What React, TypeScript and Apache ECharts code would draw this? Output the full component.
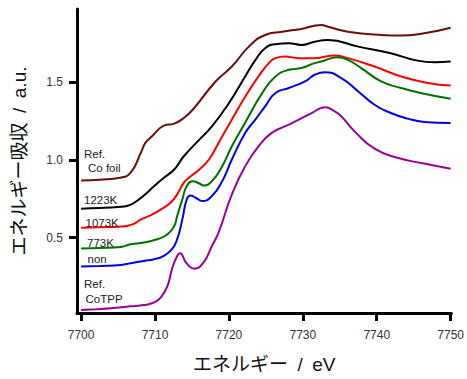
import React, { useEffect, useRef } from "react";
import * as echarts from "echarts";

// Energy (eV) / absorbance pairs
const coFoilE = [7700, 7702.5, 7705.3, 7706.7, 7708.1, 7708.7, 7709.6, 7711.2, 7712.6, 7713.9, 7715.1, 7718.2, 7720.4, 7722.7, 7724.9, 7727.2, 7729.8, 7732.5, 7733.4, 7736.1, 7740.6, 7743.3, 7746.4, 7750];
const coFoilV = [0.867, 0.872, 0.885, 0.917, 1.047, 1.109, 1.151, 1.22, 1.233, 1.269, 1.322, 1.504, 1.6, 1.728, 1.803, 1.824, 1.842, 1.867, 1.856, 1.824, 1.803, 1.799, 1.814, 1.85];

const k1223E = [7700, 7702.5, 7705, 7706.3, 7707.2, 7708.5, 7709.9, 7711.2, 7712.6, 7713.9, 7716.0, 7717.7, 7720.0, 7722.2, 7723.6, 7724.9, 7726.3, 7728.1, 7729.8, 7731.6, 7733.4, 7737.5, 7741.9, 7745.5, 7747.8, 7750];
const k1223V = [0.686, 0.69, 0.697, 0.705, 0.724, 0.771, 0.831, 0.885, 0.938, 1.023, 1.13, 1.215, 1.365, 1.536, 1.643, 1.718, 1.744, 1.75, 1.739, 1.76, 1.771, 1.728, 1.686, 1.638, 1.628, 1.632];

const k1073E = [7700, 7702.5, 7705, 7706.3, 7707.2, 7708.1, 7709.4, 7710.8, 7712.1, 7713.0, 7713.9, 7714.6, 7716.0, 7717.3, 7718.6, 7720.0, 7722.2, 7724.0, 7725.4, 7726.3, 7727.6, 7729.4, 7731.6, 7734.3, 7736.1, 7739.7, 7743.3, 7746.9, 7750];
const k1073V = [0.564, 0.567, 0.57, 0.576, 0.59, 0.617, 0.643, 0.681, 0.724, 0.778, 0.853, 0.885, 0.938, 1.002, 1.109, 1.226, 1.406, 1.536, 1.622, 1.654, 1.664, 1.654, 1.654, 1.671, 1.654, 1.6, 1.536, 1.494, 1.478];

const k773E = [7700, 7702.5, 7705.4, 7706.7, 7708.5, 7710.3, 7711.7, 7712.6, 7713.0, 7713.7, 7714.3, 7715.1, 7716.0, 7716.6, 7717.7, 7719.1, 7720.4, 7722.2, 7724.5, 7726.3, 7728.1, 7729.8, 7731.6, 7732.5, 7734.7, 7736.1, 7737.9, 7740.6, 7743.3, 7746.4, 7750];
const k773V = [0.429, 0.433, 0.44, 0.457, 0.468, 0.489, 0.521, 0.574, 0.638, 0.746, 0.831, 0.863, 0.848, 0.835, 0.863, 0.959, 1.087, 1.239, 1.429, 1.536, 1.579, 1.59, 1.622, 1.632, 1.66, 1.643, 1.59, 1.504, 1.462, 1.425, 1.393];

const nonE = [7700, 7702.5, 7705.4, 7706.7, 7708.5, 7709.9, 7711.2, 7712.3, 7713.0, 7713.7, 7714.3, 7714.8, 7715.5, 7716.4, 7717.7, 7719.1, 7720.4, 7722.2, 7723.6, 7724.9, 7726.3, 7728.1, 7730.3, 7731.6, 7733.0, 7735.2, 7737.5, 7739.7, 7741.9, 7744.2, 7746.4, 7750];
const nonV = [0.314, 0.318, 0.324, 0.335, 0.35, 0.361, 0.382, 0.425, 0.489, 0.617, 0.746, 0.771, 0.756, 0.735, 0.767, 0.863, 1.002, 1.173, 1.26, 1.344, 1.43, 1.462, 1.504, 1.547, 1.564, 1.526, 1.44, 1.354, 1.301, 1.265, 1.244, 1.237];

const cotppE = [7700, 7702, 7704.0, 7706.7, 7708.5, 7709.9, 7710.8, 7711.7, 7712.3, 7713.0, 7713.4, 7714.2, 7715.3, 7716.5, 7717.7, 7718.6, 7720.4, 7722.2, 7724.0, 7725.8, 7728.1, 7729.0, 7731.2, 7733.0, 7734.3, 7735.2, 7737.0, 7739.7, 7742.8, 7746.4, 7750];
const cotppV = [0.034, 0.039, 0.045, 0.058, 0.066, 0.083, 0.115, 0.19, 0.297, 0.382, 0.4, 0.34, 0.3, 0.335, 0.446, 0.532, 0.778, 0.959, 1.087, 1.173, 1.226, 1.247, 1.301, 1.338, 1.312, 1.28, 1.183, 1.072, 1.013, 0.976, 0.942];

const xTicks = [7700, 7710, 7720, 7730, 7740, 7750];
const yTicks = [0.5, 1.0, 1.5];

const seriesNames = ["Ref. Co foil", "1223K", "1073K", "773K", "non", "Ref. CoTPP"];
const seriesE = [coFoilE, k1223E, k1073E, k773E, nonE, cotppE];
const seriesV = [coFoilV, k1223V, k1073V, k773V, nonV, cotppV];
const colors = ["#6b0d0d", "#000000", "#ff0000", "#007000", "#0000ee", "#990099"];

const labelTexts = ["Ref.", "Co foil", "1223K", "1073K", "773K", "non", "Ref.", "CoTPP"];
const labelPos: [number, number][] = [
  [84, 154], [88, 168], [84, 200], [85.5, 222.7], [87, 243], [87.5, 259], [84, 284], [85.5, 298.5],
];

export default function App() {
  const ref = useRef<HTMLDivElement>(null);
  useEffect(() => {
    if (!ref.current) return;
    const chart = echarts.init(ref.current, undefined, { renderer: "svg" });
    const labelFont = '"Liberation Sans", Arial, sans-serif';
    const titleFont = '"Liberation Sans", "Noto Sans CJK JP", sans-serif';
    chart.setOption({
      animation: false,
      backgroundColor: "#ffffff",
      grid: { left: 77, right: 13, top: 9, bottom: 65 },
      xAxis: {
        type: "value",
        min: 7699.45,
        max: 7750.1,
        name: "エネルギー\u2002/\u2002eV",
        nameLocation: "middle",
        nameGap: 42,
        nameTextStyle: { fontSize: 19, color: "#111", fontFamily: titleFont },
        axisLine: { show: true, onZero: false, lineStyle: { color: "#000", width: 3 } },
        axisTick: { show: true, length: 8, inside: false, customValues: xTicks, lineStyle: { color: "#000", width: 3 } },
        axisLabel: {
          customValues: xTicks,
          margin: 16,
          fontSize: 12,
          color: "#333",
          fontFamily: labelFont,
          formatter: (v: number) => String(v),
        },
        splitLine: { show: false },
      },
      yAxis: {
        type: "value",
        min: 0.015,
        max: 1.97,
        name: "エネルギー吸収\u2002/\u2002a.u.",
        nameLocation: "middle",
        nameGap: 48,
        nameTextStyle: { fontSize: 19, color: "#111", fontFamily: titleFont },
        axisLine: { show: true, onZero: false, lineStyle: { color: "#000", width: 3 } },
        axisTick: { show: true, length: 8, customValues: yTicks, lineStyle: { color: "#000", width: 3 } },
        axisLabel: {
          customValues: yTicks,
          margin: 14,
          fontSize: 12,
          color: "#333",
          fontFamily: labelFont,
          formatter: (v: number) => v.toFixed(1),
        },
        splitLine: { show: false },
      },
      series: seriesNames.map((name, i) => ({
        name,
        type: "line",
        data: seriesE[i].map((e, j) => [e, seriesV[i][j]]),
        showSymbol: false,
        smooth: 0.5,
        lineStyle: { color: colors[i], width: 2 },
        itemStyle: { color: colors[i] },
        z: 2,
      })),
      graphic: labelTexts.map((t, i) => ({
        type: "text",
        x: labelPos[i][0],
        y: labelPos[i][1],
        z: 10,
        style: {
          text: t,
          fill: "#222",
          font: `11.5px ${labelFont}`,
          verticalAlign: "middle",
        },
      })),
    });
    return () => chart.dispose();
  }, []);
  return <div ref={ref} style={{ position: "absolute", left: 0, top: 0, width: 467, height: 379 }} />;
}
